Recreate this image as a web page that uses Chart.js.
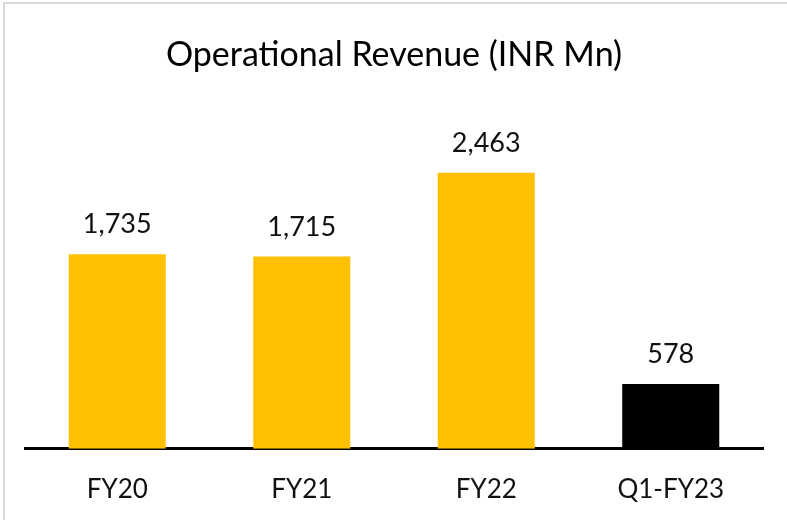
<!DOCTYPE html>
<html lang="en">
<head>
  <meta charset="UTF-8" />
  <title>Operational Revenue</title>
  <script src="https://cdn.jsdelivr.net/npm/chart.js"></script>
  <style>
    body {
      margin: 0;
      background: #fff;
    }

    #wrap {
      position: relative;
      width: 787px;
      height: 520px;
      overflow: hidden;
    }

    #frame {
      position: absolute;
      left: 3px;
      top: 2px;
      width: 900px;
      height: 700px;
      border: 2px solid #d9d9d9;
      pointer-events: none;
    }
  </style>
</head>
<body>
  <div id="wrap">
    <canvas id="revChart" width="787" height="520"></canvas>
    <div id="frame"></div>
  </div>

  <script>
    const categories = ['FY20', 'FY21', 'FY22', 'Q1-FY23'];
    const revenue = [1735, 1715, 2463, 578];
    const barColors = ['#FFC000', '#FFC000', '#FFC000', '#000000'];

    // value labels above each bar
    const valueLabels = {
      id: 'valueLabels',
      afterDatasetsDraw(chart) {
        const ctx = chart.ctx;
        const meta = chart.getDatasetMeta(0);
        ctx.save();
        ctx.font = '27px Lato';
        ctx.fillStyle = '#111';
        ctx.textAlign = 'center';
        ctx.textBaseline = 'alphabetic';
        meta.data.forEach((bar, i) => {
          ctx.fillText(revenue[i].toLocaleString('en-US'), bar.x, bar.y - 21);
        });
        ctx.restore();
      }
    };

    const ctx = document.getElementById('revChart').getContext('2d');
    new Chart(ctx, {
      type: 'bar',
      data: {
        labels: categories,
        datasets: [{
          data: revenue,
          backgroundColor: barColors,
          borderWidth: 0,
          categoryPercentage: 1,
          barPercentage: 0.526
        }]
      },
      options: {
        responsive: false,
        animation: false,
        layout: {
          padding: { left: 25, right: 24, top: 0, bottom: -10 }
        },
        plugins: {
          legend: { display: false },
          tooltip: { enabled: false },
          title: {
            display: true,
            text: 'Operational Revenue (INR Mn)',
            color: '#000',
            font: { family: 'Lato', size: 34, weight: 'normal', lineHeight: 1.2 },
            padding: { top: 35, bottom: 36.7 }
          }
        },
        scales: {
          x: {
            grid: { display: false, drawTicks: false },
            border: { display: true, color: '#000', width: 3 },
            ticks: {
              color: '#111',
              padding: 25,
              font: { family: 'Lato', size: 26 }
            }
          },
          y: {
            display: false,
            min: 0,
            max: 3000
          }
        }
      },
      plugins: [valueLabels]
    });
  </script>
</body>
</html>
